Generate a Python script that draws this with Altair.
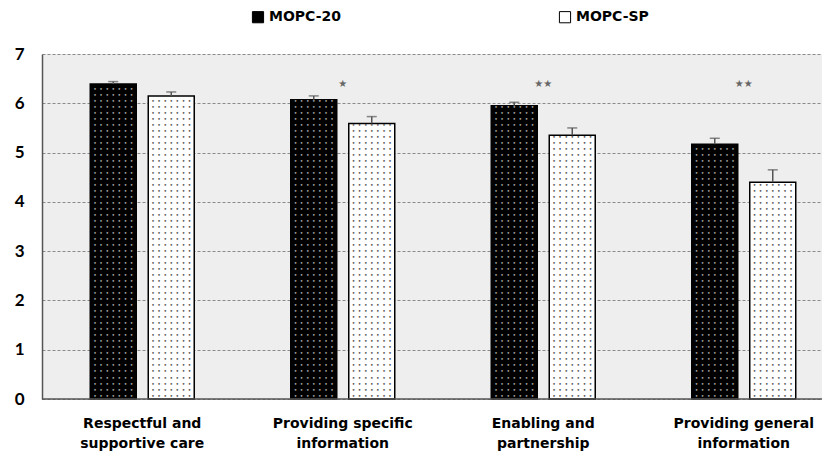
import altair as alt
import pandas as pd

# ---- data ----
categories = [
    "Respectful and supportive care",
    "Providing specific information",
    "Enabling and partnership",
    "Providing general information",
]
label_breaks = {
    "Respectful and supportive care": ["Respectful and", "supportive care"],
    "Providing specific information": ["Providing specific", "information"],
    "Enabling and partnership": ["Enabling and", "partnership"],
    "Providing general information": ["Providing general", "information"],
}
series = ["MOPC-20", "MOPC-SP"]
mopc20_mean = [6.39, 6.07, 5.95, 5.17]
mopc20_err = [0.05, 0.08, 0.07, 0.12]
mopcsp_mean = [6.15, 5.59, 5.35, 4.40]
mopcsp_err = [0.08, 0.14, 0.15, 0.25]
significance = ["", "*", "**", "**"]
y_ticks = [0, 1, 2, 3, 4, 5, 6, 7]

rows = []
for i, c in enumerate(categories):
    rows.append(dict(cat=c, series=series[0], mean=mopc20_mean[i], err=mopc20_err[i]))
    rows.append(dict(cat=c, series=series[1], mean=mopcsp_mean[i], err=mopcsp_err[i]))
df = pd.DataFrame(rows)
df["top"] = df["mean"] + df["err"]
sig_df = pd.DataFrame({"cat": categories, "sig": significance})
zero_df = pd.DataFrame({"v": [0]})

FONT = "DejaVu Sans"
YFONT = "Lato"
label_expr = "{" + ", ".join(
    "'%s': ['%s', '%s']" % (k, v[0], v[1]) for k, v in label_breaks.items()
) + "}[datum.value]"

x_scale = alt.Scale(domain=categories, range=[0, 802], paddingInner=0, paddingOuter=0)
xoff_scale = alt.Scale(domain=series, paddingInner=0.207, paddingOuter=0.832)
y_scale = alt.Scale(domain=[0, 7], nice=False)

x_enc = alt.X(
    "cat:N",
    scale=x_scale,
    sort=categories,
    axis=alt.Axis(
        title=None, domain=False, ticks=False, grid=False, labelAngle=0,
        labelExpr=label_expr, labelFont=FONT, labelFontSize=14,
        labelFontWeight="bold", labelColor="black", labelPadding=17,
        labelLineHeight=20,
    ),
)
xoff_enc = alt.XOffset("series:N", scale=xoff_scale, sort=series)

base = alt.Chart(df)

bars = base.mark_bar(stroke="black", strokeWidth=1.5).encode(
    x=x_enc,
    xOffset=xoff_enc,
    y=alt.Y(
        "mean:Q",
        scale=y_scale,
        axis=alt.Axis(
            values=y_ticks, title=None, domain=True, domainColor="#555",
            domainWidth=1.5, ticks=False, grid=True, gridColor="#8a8a8a",
            gridDash=[3, 2], gridWidth=1, labelFont=YFONT, labelFontSize=17,
            labelFontWeight="bold", labelColor="black", labelPadding=18,
        ),
    ),
    fill=alt.Fill(
        "series:N",
        scale=alt.Scale(domain=series, range=["black", "white"]),
        legend=alt.Legend(
            orient="none", legendX=209, legendY=-44, direction="horizontal",
            title=None, symbolType="square", symbolSize=125,
            symbolStrokeColor="black", symbolStrokeWidth=1, labelFont=FONT,
            labelFontSize=14, labelFontWeight="bold", labelColor="black",
            labelOffset=4, columnPadding=216,
        ),
    ),
)

# dotted texture inside each bar, derived from the bar values
dots = base.transform_calculate(
    r="sequence(0, floor((datum.mean - 0.07) / 0.122) + 1)",
    c="sequence(0, 7)",
).transform_flatten(["r"]).transform_flatten(["c"]).transform_calculate(
    yy="0.07 + datum.r * 0.122"
).mark_text(
    text="•", font="DejaVu Sans", fontSize=6, baseline="middle",
    dx={"expr": "(datum.c - 3) * 6.1"},
).encode(
    x=x_enc,
    xOffset=xoff_enc,
    y=alt.Y("yy:Q", scale=y_scale),
    color=alt.Color("series:N", scale=alt.Scale(domain=series, range=["#a8a8a8", "#505050"]), legend=None),
)

err_rule = base.mark_rule(color="#555", strokeWidth=1.5).encode(
    x=x_enc, xOffset=xoff_enc, y="mean:Q", y2="top:Q"
)
err_cap = base.mark_tick(color="#555", thickness=1.5, size=10, orient="horizontal").encode(
    x=x_enc, xOffset=xoff_enc, y=alt.Y("top:Q", scale=y_scale)
)

stars = alt.Chart(sig_df).transform_calculate(
    star="replace(replace(datum.sig, '*', '★'), '*', '★')"
).mark_text(
    font="DejaVu Sans", fontSize=10, color="#666", baseline="middle"
).encode(
    x=alt.X("cat:N", scale=x_scale, sort=categories),
    y=alt.datum(6.4),
    text="star:N",
)

zero_line = alt.Chart(zero_df).mark_rule(color="#555", strokeWidth=1.5).encode(
    y=alt.Y("v:Q", scale=y_scale)
)

chart = (
    alt.layer(bars, dots, err_rule, err_cap, stars, zero_line)
    .properties(
        width=780,
        height=345,
        autosize=alt.AutoSizeParams(type="none"),
        padding={"left": 34, "top": 46, "right": 0, "bottom": 57},
        background="white",
    )
    .configure_view(fill="#eeeeee", stroke=None)
)

chart.save("out.html", embed_options={"renderer": "svg", "actions": False})
